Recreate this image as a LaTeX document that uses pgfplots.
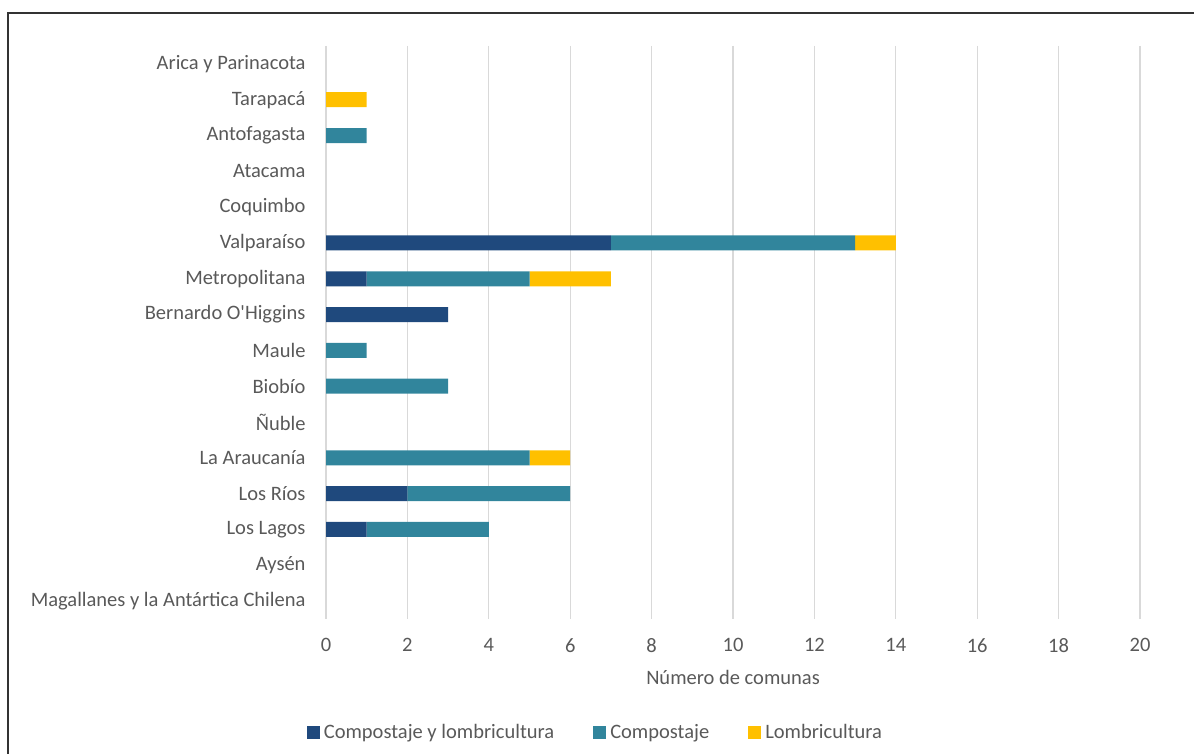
\documentclass[border=0pt]{standalone}
\usepackage{pgfplots}
\pgfplotsset{compat=1.18}
\usepackage{fontspec}
\setmainfont{Carlito}
\newfontfamily\carl{Carlito}
\definecolor{cdark}{RGB}{31,73,125}
\definecolor{cteal}{RGB}{49,133,156}
\definecolor{cgold}{RGB}{255,192,0}
\definecolor{cgrid}{RGB}{217,217,217}
\definecolor{ctext}{RGB}{89,89,89}
\begin{document}
\begin{tikzpicture}[x=1bp,y=1bp]
\useasboundingbox (0,0) rectangle (1194,754);
\draw[line width=1.5bp, color=black!80] (8,0) -- (8,741) -- (1194,741);
\begin{axis}[
  at={(326bp,135bp)}, anchor=south west,
  scale only axis, width=814bp, height=573bp,
  xbar stacked, bar width=15bp,
  xmin=0, xmax=20, xtick={0,2,...,20},
  ymin=-0.5, ymax=15.5, y dir=reverse,
  ytick={0,...,15},
  yticklabels={Arica y Parinacota, Tarapacá, Antofagasta, Atacama, Coquimbo, Valparaíso, Metropolitana, Bernardo O{\carl'}Higgins, Maule, Biobío, Ñuble, La Araucanía, Los Ríos, Los Lagos, Aysén, Magallanes y la Antártica Chilena},
  axis line style={draw=none},
  major tick length=0pt,
  xmajorgrids, major grid style={cgrid, line width=1.2bp},
  ymajorgrids=false,
  tick label style={font=\fontsize{20.5bp}{24.5bp}\selectfont, text=ctext},
  /pgf/number format/assume math mode=true,
  xticklabel style={yshift=-16bp},
  yticklabel style={xshift=-17bp},
  xlabel={Número de comunas},
  xlabel style={font=\fontsize{20.5bp}{24.5bp}\selectfont, text=ctext, yshift=-11bp},
  legend style={at={(rel axis cs:0.331,-0.198)}, anchor=center, draw=none, fill=none,
    legend columns=3, font=\fontsize{20.5bp}{24.5bp}\selectfont, text=ctext,
    /tikz/every odd column/.append style={column sep=2bp},
    /tikz/every even column/.append style={column sep=37bp}},
  legend image code/.code={\fill[#1] (0bp,-6.5bp) rectangle (13bp,6.5bp);},
  legend cell align=left,
]
\addplot[fill=cdark, draw=none] coordinates {(0,0) (0,1) (0,2) (0,3) (0,4) (7,5) (1,6) (3,7) (0,8) (0,9) (0,10) (0,11) (2,12) (1,13) (0,14) (0,15)};
\addplot[fill=cteal, draw=none] coordinates {(0,0) (0,1) (1,2) (0,3) (0,4) (6,5) (4,6) (0,7) (1,8) (3,9) (0,10) (5,11) (4,12) (3,13) (0,14) (0,15)};
\addplot[fill=cgold, draw=none] coordinates {(0,0) (1,1) (0,2) (0,3) (0,4) (1,5) (2,6) (0,7) (0,8) (0,9) (0,10) (1,11) (0,12) (0,13) (0,14) (0,15)};
\legend{Compostaje y lombricultura, Compostaje, Lombricultura}
\end{axis}
\end{tikzpicture}
\end{document}
